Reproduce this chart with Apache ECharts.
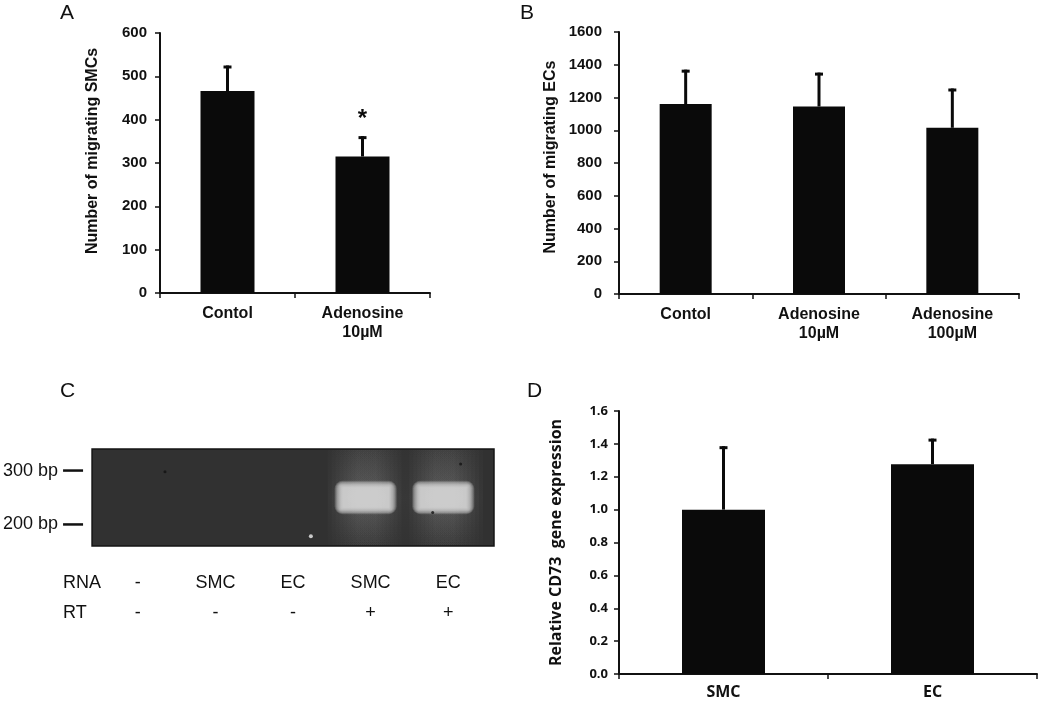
<!DOCTYPE html>
<html><head><meta charset="utf-8">
<script src="https://cdn.jsdelivr.net/npm/echarts@6/dist/echarts.min.js"></script>
<style>html,body{margin:0;padding:0;background:#fff}#c{width:1050px;height:706px}</style>
</head><body><div id="c"></div>
<script>
// ---------- data ----------
const catsA = ['Contol', 'Adenosine\n10µM'];
const meanA = [466, 315];
const upperA = [525, 362];
const sigA = ['', '*'];

const catsB = ['Contol', 'Adenosine\n10µM', 'Adenosine\n100µM'];
const meanB = [1160, 1145, 1015];
const upperB = [1370, 1352, 1255];

const catsD = ['SMC', 'EC'];
const meanD = [1.0, 1.276];
const upperD = [1.386, 1.432];

const gelLanes = [0, 1, 2, 3, 4];
const gelRNA = ['-', 'SMC', 'EC', 'SMC', 'EC'];
const gelRT = ['-', '-', '-', '+', '+'];
const gelMarkers = [200, 300];           // bp ladder marks
const gelBands = [[3, 250], [4, 250]];   // [lane, bp]
const gelSpecksDark = [[0.35, 298], [4.16, 312], [3.8, 222]];
const gelSpecksLight = [[2.23, 178]];

// ---------- styles ----------
const SANS = 'Liberation Sans, Arial, sans-serif';
const DFONT = 'Open Sans, sans-serif';
const INK = '#0a0a0a';

function errorSeries(xi, yi, means, uppers, sig, capHalf) {
  return {
    type: 'custom', xAxisIndex: xi, yAxisIndex: yi, z: 5,
    data: means.map((m, i) => [i, m, uppers[i]]),
    renderItem: (params, api) => {
      const i = api.value(0);
      const p0 = api.coord([i, api.value(1)]);
      const p1 = api.coord([i, api.value(2)]);
      const ch = [
        { type: 'line', shape: { x1: p0[0], y1: p0[1], x2: p1[0], y2: p1[1] }, style: { stroke: INK, lineWidth: 3 } },
        { type: 'line', shape: { x1: p1[0] - capHalf, y1: p1[1] + 1.5, x2: p1[0] + capHalf, y2: p1[1] + 1.5 }, style: { stroke: INK, lineWidth: 3 } }
      ];
      if (sig && sig[params.dataIndex]) {
        ch.push({ type: 'text', x: p1[0], y: p1[1] - 17,
          style: { text: sig[params.dataIndex], font: 'bold 24px ' + SANS, align: 'center', verticalAlign: 'middle', fill: INK } });
      }
      return { type: 'group', children: ch };
    }
  };
}

function catAxis(grid, data, font, size, margin) {
  return {
    gridIndex: grid, type: 'category', data: data,
    axisLine: { show: true, lineStyle: { color: '#111', width: 2 } },
    axisTick: { show: true, length: 5, lineStyle: { color: '#111', width: 1.5 } },
    axisLabel: { margin: margin, color: '#111', fontFamily: font, fontWeight: 'bold', fontSize: size, lineHeight: 19 },
    splitLine: { show: false }
  };
}
function valAxis(grid, max, interval, font, size, margin, name, nameGap, nameSize, pad, fmt) {
  return {
    gridIndex: grid, type: 'value', min: 0, max: max, interval: interval,
    axisLine: { show: true, lineStyle: { color: '#111', width: 2 } },
    axisTick: { show: true, length: 5, lineStyle: { color: '#111', width: 1.5 } },
    axisLabel: { margin: margin, color: '#111', fontFamily: font, fontWeight: 'bold', fontSize: size, formatter: fmt },
    splitLine: { show: false },
    name: name, nameLocation: 'middle', nameGap: nameGap,
    nameTextStyle: { color: '#111', fontFamily: font, fontWeight: 'bold', fontSize: nameSize, padding: pad }
  };
}

const letter = (t, l, tp) => ({ text: t, left: l, top: tp, padding: 0,
  textStyle: { fontSize: 21, fontWeight: 'normal', fontFamily: SANS, color: '#111' } });

const plain = v => String(v);

// soft glowing rectangle made of many stacked translucent layers
function softRect(cx, cy, w, h, rgb, n, alpha, sx, sy) {
  const out = [];
  for (let k = 0; k < n; k++) {
    out.push({
      type: 'rect',
      shape: { x: cx - w / 2 + k * sx, y: cy - h / 2 + k * sy, width: w - 2 * k * sx, height: h - 2 * k * sy, r: Math.max(0, 8 - k * 0.8) },
      style: { fill: 'rgba(' + rgb + ',' + alpha + ')' }
    });
  }
  return out;
}

const option = {
  backgroundColor: '#fff',
  animation: false,
  title: [letter('A', 60, 3), letter('B', 520, 3), letter('C', 60, 381), letter('D', 527, 381)],
  grid: [
    { left: 160, top: 33, width: 270, height: 260 },
    { left: 619, top: 32, width: 400, height: 262 },
    { left: 92, top: 449, width: 402, height: 97, show: true, backgroundColor: '#313131', borderColor: '#141414', borderWidth: 1.5 },
    { left: 619, top: 411, width: 418, height: 263 }
  ],
  xAxis: [
    catAxis(0, catsA, SANS, 16, 11),
    catAxis(1, catsB, SANS, 16, 11),
    { gridIndex: 2, type: 'value', min: -0.59, max: 4.59, position: 'bottom',
      axisLine: { show: false }, axisTick: { show: false }, splitLine: { show: false },
      axisLabel: { customValues: gelLanes, formatter: v => gelRNA[Math.round(v)], margin: 28, fontSize: 18, fontFamily: SANS, color: '#111' } },
    { gridIndex: 2, type: 'value', min: -0.59, max: 4.59, position: 'bottom', offset: 0,
      axisLine: { show: false }, axisTick: { show: false }, splitLine: { show: false },
      axisLabel: { customValues: gelLanes, formatter: v => gelRT[Math.round(v)], margin: 58, fontSize: 18, fontFamily: SANS, color: '#111' } },
    catAxis(3, catsD, DFONT, 16, 9)
  ],
  yAxis: [
    valAxis(0, 600, 100, SANS, 15, 13, 'Number of migrating SMCs', 59, 16, [0, 0, 0, 24], plain),
    valAxis(1, 1600, 200, SANS, 15, 17, 'Number of migrating ECs', 60, 16, [0, 0, 0, 12], plain),
    { gridIndex: 2, type: 'value', min: 160, max: 340,
      axisLine: { show: false }, splitLine: { show: false }, axisTick: { show: false },
      axisLabel: { customValues: gelMarkers, formatter: '{value} bp', margin: 34, fontSize: 18, fontFamily: SANS, color: '#111' } },
    valAxis(3, 1.6, 0.2, DFONT, 13, 11, 'Relative CD73  gene expression', 55, 16, [0, 0, 0, 0], v => v.toFixed(1))
  ],
  series: [
    { type: 'bar', xAxisIndex: 0, yAxisIndex: 0, data: meanA, barWidth: 54, itemStyle: { color: INK } },
    errorSeries(0, 0, meanA, upperA, sigA, 4),
    { type: 'bar', xAxisIndex: 1, yAxisIndex: 1, data: meanB, barWidth: 52, itemStyle: { color: INK } },
    errorSeries(1, 1, meanB, upperB, null, 4),
    { type: 'bar', xAxisIndex: 4, yAxisIndex: 3, data: meanD, barWidth: 83, itemStyle: { color: INK } },
    errorSeries(4, 3, meanD, upperD, null, 4),
    // gel: faint haze along lanes carrying a product
    { type: 'custom', xAxisIndex: 2, yAxisIndex: 2, z: 2,
      data: gelBands,
      renderItem: (params, api) => {
        const top = api.coord([api.value(0), 340]);
        const bot = api.coord([api.value(0), 160]);
        const mid = api.coord([api.value(0), api.value(1)]);
        const w = api.size([1.0, 0])[0];
        const f = (mid[1] - top[1]) / (bot[1] - top[1]);
        const layers = [];
        for (let k = 0; k < 8; k++) {
          const a = 0.035;
          layers.push({
            type: 'rect',
            shape: { x: top[0] - 4 - w / 2 + k * 4, y: top[1] + 1, width: w - k * 8, height: bot[1] - top[1] - 2 },
            style: { fill: { type: 'linear', x: 0, y: 0, x2: 0, y2: 1, colorStops: [
              { offset: 0, color: 'rgba(150,150,150,' + a * 0.7 + ')' },
              { offset: f, color: 'rgba(150,150,150,' + a * 1.8 + ')' },
              { offset: 1, color: 'rgba(150,150,150,' + a * 0.5 + ')' }] } }
          });
        }
        return { type: 'group', children: layers };
      } },
    // gel: PCR product bands
    { type: 'custom', xAxisIndex: 2, yAxisIndex: 2, z: 3,
      data: gelBands,
      renderItem: (params, api) => {
        const c = api.coord([api.value(0), api.value(1)]);
        const w = api.size([0.8, 0])[0];
        const h = api.size([0, 62])[1];
        return { type: 'group', children: softRect(c[0] - 5, c[1], w, h, '220,220,220', 11, 0.19, 0.8, 0.65) };
      } },
    // gel: ladder marker dashes left of the gel
    { type: 'custom', xAxisIndex: 2, yAxisIndex: 2, z: 4, clip: false,
      data: gelMarkers.map(v => [-0.59, v]),
      renderItem: (params, api) => {
        const c = api.coord([api.value(0), api.value(1)]);
        return { type: 'line', shape: { x1: c[0] - 29, y1: c[1], x2: c[0] - 9, y2: c[1] },
          style: { stroke: '#111', lineWidth: 2.5 } };
      } },
    { type: 'scatter', xAxisIndex: 2, yAxisIndex: 2, z: 4, symbolSize: 3, data: gelSpecksDark, itemStyle: { color: '#111' } },
    { type: 'scatter', xAxisIndex: 2, yAxisIndex: 2, z: 4, symbolSize: 4, data: gelSpecksLight, itemStyle: { color: '#f0f0f0' } }
  ],
  graphic: [
    { type: 'text', left: 63, top: 574, style: { text: 'RNA', font: '18px ' + SANS, fill: '#111' } },
    { type: 'text', left: 63, top: 604, style: { text: 'RT', font: '18px ' + SANS, fill: '#111' } }
  ]
};

const chart = echarts.init(document.getElementById('c'), null, { renderer: 'canvas' });
chart.setOption(option);
</script>
</body></html>
